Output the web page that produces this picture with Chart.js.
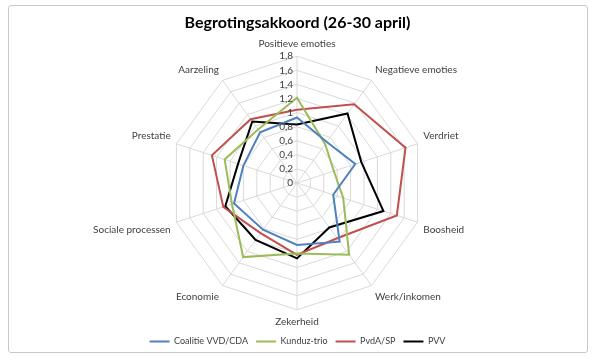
<!DOCTYPE html>
<html>
<head>
<meta charset="utf-8">
<script src="https://cdn.jsdelivr.net/npm/chart.js@4/dist/chart.umd.min.js"></script>
<style>
  html, body { margin: 0; padding: 0; background: #fff; }
  #wrap { position: relative; width: 595px; height: 361px; }
  #frame { position: absolute; left: 8px; top: 5px; width: 578px; height: 346px; border: 1px solid #c8c8c8; border-radius: 3px; pointer-events: none; }
</style>
</head>
<body>
<div id="wrap">
  <canvas id="chart" width="595" height="361"></canvas>
  <div id="frame"></div>
</div>
<script>
const categories = ['Positieve emoties', 'Negatieve emoties', 'Verdriet', 'Boosheid', 'Werk/inkomen',
  'Zekerheid', 'Economie', 'Sociale processen', 'Prestatie', 'Aarzeling'];

const coalitieValues = [0.93, 0.72, 0.87, 0.54, 1.03, 0.88, 0.82, 0.94, 0.80, 0.89];
const kunduzValues = [1.21, 0.68, 0.55, 0.69, 1.26, 1.00, 1.30, 0.97, 1.08, 0.94];
const pvdaValues = [1.04, 1.38, 1.62, 1.49, 0.97, 1.02, 0.88, 1.10, 1.27, 1.12];
const pvvValues = [0.83, 1.22, 0.96, 1.29, 0.78, 1.07, 1.00, 1.07, 0.88, 1.08];

const tickValues = [0, 0.2, 0.4, 0.6, 0.8, 1, 1.2, 1.4, 1.6, 1.8];

const fontFamily = 'Lato, "Open Sans", sans-serif';

// tick labels sit left of the vertical axis, as in Excel
const tickLabelPlugin = {
  id: 'tickLabels',
  afterDatasetsDraw(chart) {
    const scale = chart.scales.r;
    const ctx = chart.ctx;
    ctx.save();
    ctx.font = '10px ' + fontFamily;
    ctx.fillStyle = '#404040';
    ctx.textAlign = 'right';
    ctx.textBaseline = 'middle';
    tickValues.forEach((v) => {
      const pos = scale.getPointPositionForValue(0, v);
      ctx.fillText(String(v).replace('.', ','), pos.x - 4, pos.y);
    });
    ctx.restore();
  }
};

new Chart(document.getElementById('chart'), {
  type: 'radar',
  data: {
    labels: categories,
    datasets: [
      { label: 'Coalitie VVD/CDA', data: coalitieValues, borderColor: '#4F81BD', backgroundColor: '#4F81BD', borderWidth: 2 },
      { label: 'Kunduz-trio', data: kunduzValues, borderColor: '#9BBB59', backgroundColor: '#9BBB59', borderWidth: 2 },
      { label: 'PvdA/SP', data: pvdaValues, borderColor: '#C0504D', backgroundColor: '#C0504D', borderWidth: 2 },
      { label: 'PVV', data: pvvValues, borderColor: '#000000', backgroundColor: '#000000', borderWidth: 2 },
    ],
  },
  options: {
    responsive: false,
    animation: false,
    layout: { padding: { top: 0, bottom: 5, left: 10, right: 10 } },
    elements: {
      line: { fill: false, tension: 0 },
      point: { radius: 0, hoverRadius: 0 },
    },
    scales: {
      r: {
        min: 0,
        max: 1.8,
        ticks: { stepSize: 0.2, display: false },
        grid: { color: '#d9d9d9', lineWidth: 1 },
        angleLines: { color: '#d9d9d9', lineWidth: 1 },
        pointLabels: {
          color: '#404040',
          padding: 6,
          font: { family: fontFamily, size: 10 },
        },
      },
    },
    plugins: {
      title: {
        display: true,
        text: 'Begrotingsakkoord (26-30 april)',
        color: '#000',
        font: { family: fontFamily, size: 16, weight: 'bold' },
        padding: { top: 13, bottom: 6 },
      },
      legend: {
        position: 'bottom',
        labels: {
          usePointStyle: true,
          pointStyle: 'line',
          pointStyleWidth: 20,
          padding: 8,
          color: '#404040',
          font: { family: fontFamily, size: 9 },
        },
      },
      tooltip: { enabled: false },
    },
  },
  plugins: [tickLabelPlugin],
});
</script>
</body>
</html>
